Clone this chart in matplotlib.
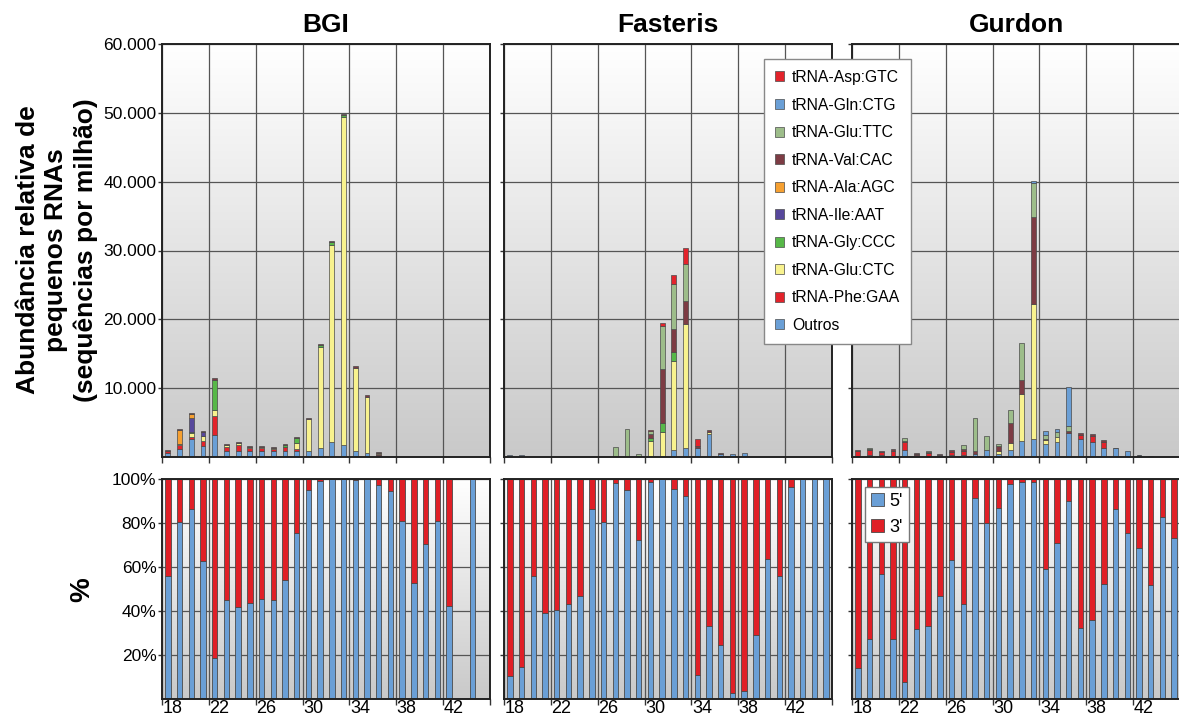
''' plot.py
Abundancia de fragmentos de tRNA por tamanho (BGI, Fasteris, Gurdon).
'''

import numpy as np
import matplotlib
matplotlib.use('Agg')
import matplotlib.pyplot as plt
from matplotlib.patches import Patch
from matplotlib.ticker import FuncFormatter, FixedLocator

plt.rcParams['font.family'] = ['Liberation Sans', 'DejaVu Sans']

sizes = np.arange(18, 46)
centers = ['BGI', 'Fasteris', 'Gurdon']

# legend order (top of legend = top of stack)
series = ['tRNA-Asp:GTC', 'tRNA-Gln:CTG', 'tRNA-Glu:TTC', 'tRNA-Val:CAC',
          'tRNA-Ala:AGC', 'tRNA-Ile:AAT', 'tRNA-Gly:CCC', 'tRNA-Glu:CTC',
          'tRNA-Phe:GAA', 'Outros']
colors = ['#e3232b', '#6a9fd6', '#9dbd8a', '#7d3c44',
          '#f6a031', '#57489c', '#57b848', '#f8f28e',
          '#e3232b', '#6a9fd6']

# values in thousands of sequences per million, sizes 18..45
z = [0] * 28

bgi_outros = [0.55, 1.2, 2.55, 1.6, 3.15, 0.85, 0.8, 0.8, 0.8, 0.8, 0.8, 0.85, 0.9, 1.25,
              2.15, 1.8, 0.8, 0.6, 0.3, 0.05, 0, 0, 0, 0, 0, 0, 0, 0]
bgi_phe = [0.35, 0.5, 0.35, 0.7, 2.85, 0.6, 0.9, 0.45, 0.45, 0.4, 0.6, 0.35, 0, 0,
           0, 0, 0, 0, 0.1, 0, 0, 0, 0, 0, 0, 0, 0, 0]
bgi_glu_ctc = [0, 0.15, 0.6, 0.7, 0.8, 0.25, 0.3, 0.2, 0.2, 0.15, 0.1, 0.8, 4.6, 14.75,
               28.65, 47.55, 12.2, 8.15, 0.2, 0, 0, 0, 0, 0, 0, 0, 0, 0]
bgi_gly = [0, 0, 0.2, 0.1, 4.45, 0, 0, 0, 0, 0, 0.3, 0.8, 0, 0.2,
           0.5, 0.35, 0, 0, 0, 0, 0, 0, 0, 0, 0, 0, 0, 0]
bgi_ile = [0, 0, 2.0, 0.5, 0, 0, 0, 0, 0, 0, 0, 0, 0, 0,
           0, 0, 0, 0, 0, 0, 0, 0, 0, 0, 0, 0, 0, 0]
bgi_ala = [0, 2.0, 0.6, 0.1, 0, 0, 0, 0, 0, 0, 0, 0, 0, 0,
           0, 0, 0, 0, 0, 0, 0, 0, 0, 0, 0, 0, 0, 0]
bgi_val = [0.15, 0.15, 0.1, 0.1, 0.25, 0.15, 0.15, 0.15, 0.15, 0.1, 0.15, 0.1, 0.15, 0.2,
           0.1, 0.1, 0.25, 0.2, 0.1, 0, 0, 0, 0, 0, 0, 0, 0, 0]

fas_outros = [0.25, 0.25, 0.05, 0.05, 0.05, 0, 0, 0.05, 0.05, 0, 0, 0, 0, 0,
              1.05, 1.35, 1.35, 3.3, 0.5, 0.5, 0.6, 0.05, 0, 0, 0, 0, 0, 0]
fas_glu_ctc = [0, 0, 0, 0, 0, 0, 0, 0, 0, 0, 0, 0, 2.3, 3.65,
               12.9, 17.9, 0, 0.35, 0, 0, 0, 0, 0, 0, 0, 0, 0, 0]
fas_gly = [0, 0, 0, 0, 0, 0, 0, 0, 0, 0, 0, 0, 0.4, 1.3,
           1.3, 0, 0, 0, 0, 0, 0, 0, 0, 0, 0, 0, 0, 0]
fas_val = [0, 0, 0, 0, 0, 0, 0, 0, 0, 0, 0, 0.1, 0.7, 7.9,
           3.4, 3.4, 0.2, 0.3, 0.1, 0, 0, 0, 0, 0, 0, 0, 0, 0]
fas_glu_ttc = [0, 0, 0, 0, 0, 0, 0, 0, 0, 1.4, 4.0, 0.4, 0.4, 6.2,
               6.55, 5.4, 0, 0, 0, 0, 0, 0, 0, 0, 0, 0, 0, 0]
fas_asp = [0, 0, 0, 0, 0, 0, 0, 0, 0, 0, 0, 0, 0.1, 0.35,
           1.2, 2.3, 1.1, 0, 0, 0, 0, 0, 0, 0, 0, 0, 0, 0]

gur_outros = [0.2, 0.3, 0.3, 0.2, 0.95, 0.25, 0.15, 0.3, 0.25, 0.3, 0.5, 1.05, 0.5, 1.05,
              2.3, 2.55, 1.95, 2.2, 3.5, 2.55, 2.2, 1.35, 1.25, 0.8, 0.3, 0.2, 0.05, 0.05]
gur_phe = [0.7, 0.7, 0.45, 0.7, 1.3, 0.2, 0.4, 0, 0.5, 0.6, 0, 0, 0, 0,
           0, 0, 0, 0, 0, 0.6, 0.9, 0.9, 0, 0, 0, 0, 0, 0]
gur_glu_ctc = [0, 0, 0, 0, 0, 0, 0, 0, 0, 0, 0, 0, 0.35, 0.95,
               6.85, 19.65, 0.5, 0.7, 0, 0, 0, 0, 0, 0, 0, 0, 0, 0]
gur_val = [0.15, 0.1, 0.15, 0.2, 0.1, 0.15, 0.15, 0.2, 0.3, 0.2, 0.3, 0, 0.7, 2.9,
           2.05, 12.6, 0.1, 0, 0.3, 0.3, 0.2, 0.15, 0.1, 0, 0.05, 0, 0, 0]
gur_glu_ttc = [0, 0.15, 0, 0, 0.45, 0, 0.15, 0, 0, 0.7, 4.8, 1.95, 0.4, 1.95,
               5.3, 4.95, 0.6, 0.7, 0.7, 0, 0, 0, 0, 0, 0, 0, 0, 0]
gur_gln = [0, 0, 0, 0, 0, 0, 0, 0, 0, 0, 0, 0, 0, 0,
           0, 0.4, 0.6, 0.4, 5.6, 0, 0, 0, 0, 0, 0, 0, 0, 0]

# stacks listed bottom -> top (Outros ... Asp)
stacks = {
    'BGI': [bgi_outros, bgi_phe, bgi_glu_ctc, bgi_gly, bgi_ile, bgi_ala,
            bgi_val, z, z, z],
    'Fasteris': [fas_outros, z, fas_glu_ctc, fas_gly, z, z,
                 fas_val, fas_glu_ttc, z, fas_asp],
    'Gurdon': [gur_outros, gur_phe, gur_glu_ctc, z, z, z,
               gur_val, gur_glu_ttc, gur_gln, z],
}

# % of 5' fragments per size (None = no reads)
five_bgi = [55.7, 80.5, 86.2, 62.6, 18.5, 45.2, 41.8, 43.6, 45.5, 44.9, 54.3, 75.5, 95.2, 99.1,
            100, 100, 99.4, 99.8, 97.1, 94.4, 81.1, 52.6, 70.6, 81.1, 42.4, None, 100, None]
five_fas = [10.3, 14.5, 56.1, 39.3, 40.5, 43.0, 47.0, 86.5, 80.5, 98.0, 95.2, 72.5, 98.5, 100,
            95.3, 92.4, 10.9, 33.3, 24.4, 2.7, 3.6, 28.9, 63.7, 55.7, 96.5, 100, 100, 100]
five_gur = [14.2, 27.1, 56.7, 27.1, 7.7, 31.8, 33.3, 46.7, 63.1, 43.4, 91.5, 80.2, 87.0, 97.9,
            98.6, 98.5, 59.0, 71.0, 89.9, 32.1, 35.9, 52.2, 86.2, 75.3, 68.5, 51.9, 82.6, 73.4]
fives = {'BGI': five_bgi, 'Fasteris': five_fas, 'Gurdon': five_gur}

stack_colors = colors[::-1]
edge = '#4a4a4a'
blue5 = '#6a9fd6'
red3 = '#e01f26'


def gradient_bg(ax):
    grad = np.linspace(1.0, 0.0, 256).reshape(-1, 1)
    ax.imshow(grad, extent=(0, 1, 0, 1), transform=ax.transAxes, aspect='auto',
              cmap=matplotlib.colors.LinearSegmentedColormap.from_list(
                  'bg', ['#c9c9c9', '#ffffff']), zorder=0, interpolation='bicubic')


def style_axes(ax):
    ax.set_axisbelow(True)
    ax.grid(True, color='#555555', linewidth=0.9)
    for s in ax.spines.values():
        s.set_linewidth(1.4)
        s.set_color('#222222')
    ax.set_xlim(17.5, 45.5)
    ax.xaxis.set_major_locator(FixedLocator(np.arange(17.5, 46, 4)))
    ax.tick_params(axis='x', which='major', length=4, width=1, labelbottom=False,
                   color='#333333')
    ax.tick_params(axis='y', length=3, width=1, color='#333333', pad=1,
                   labelsize=12.5)


fig = plt.figure(figsize=(11.79, 7.18), dpi=100)
lefts = [162, 504, 852]
width = 328
top_axes = []
bot_axes = []
for i, name in enumerate(centers):
    l = lefts[i] / 1179
    w = width / 1179
    ax = fig.add_axes([l, (718 - 457) / 718, w, 413 / 718])
    bx = fig.add_axes([l, (718 - 699) / 718, w, 220 / 718])
    top_axes.append(ax)
    bot_axes.append(bx)

    # top: stacked abundance
    gradient_bg(ax)
    style_axes(ax)
    bottom = np.zeros(len(sizes))
    for vals, c in zip(stacks[name], stack_colors):
        vals = np.array(vals, dtype=float)
        m = vals > 0
        ax.bar(sizes[m], vals[m], bottom=bottom[m], width=0.42, color=c,
               edgecolor=edge, linewidth=0.5, zorder=2)
        bottom += vals
    ax.set_ylim(0, 60)
    ax.yaxis.set_major_locator(FixedLocator(np.arange(10, 61, 10)))
    ax.yaxis.set_major_formatter(FuncFormatter(
        lambda v, p: '{:d}.000'.format(int(round(v)))))
    if i > 0:
        ax.tick_params(axis='y', labelleft=False)
    ax.set_title(name, fontsize=19, fontweight='bold', pad=9,
                 family=['Liberation Sans Narrow', 'Liberation Sans'])

    # bottom: 5' / 3' proportion
    gradient_bg(bx)
    style_axes(bx)
    five = np.array([np.nan if v is None else v for v in fives[name]])
    m = ~np.isnan(five)
    bx.bar(sizes[m], five[m], width=0.46, color=blue5, edgecolor=edge,
           linewidth=0.6, zorder=2, label="5'")
    bx.bar(sizes[m], 100 - five[m], bottom=five[m], width=0.46, color=red3,
           edgecolor=edge, linewidth=0.6, zorder=2, label="3'")
    bx.set_ylim(0, 100)
    bx.yaxis.set_major_locator(FixedLocator(np.arange(20, 101, 20)))
    bx.yaxis.set_major_formatter(FuncFormatter(lambda v, p: '{:d}%'.format(int(v))))
    if i > 0:
        bx.tick_params(axis='y', labelleft=False)
    lab = np.arange(18, 46, 4)
    bx.xaxis.set_minor_locator(FixedLocator(lab + 0.4))
    bx.set_xticklabels([], minor=False)
    bx.xaxis.set_minor_formatter(FuncFormatter(lambda v, p: '{:d}'.format(int(v))))
    bx.tick_params(axis='x', which='minor', length=0, labelsize=13, pad=1)

fig.text(0.048, (718 - 250) / 718,
         'Abundância relativa de\npequenos RNAs\n(sequências por milhão)',
         rotation=90, ha='center', va='center', fontsize=19, fontweight='bold',
         linespacing=1.25)
fig.text(0.07, (718 - 590) / 718, '%', rotation=90, ha='center', va='center',
         fontsize=20, fontweight='bold')

handles = [Patch(facecolor=c, edgecolor=edge, linewidth=0.5) for c in colors]
fig.legend(handles, series, loc='upper left', bbox_to_anchor=(764 / 1179, (718 - 59) / 718),
           frameon=True, fancybox=False, edgecolor='#888888', fontsize=11.3,
           handlelength=0.6, handleheight=0.6, handletextpad=0.5,
           labelspacing=0.8, borderpad=0.7, borderaxespad=0, framealpha=1)

bot_axes[2].legend(loc='upper left', bbox_to_anchor=(0.04, 0.965), frameon=True,
                   fancybox=False, edgecolor='#777777', fontsize=13,
                   handlelength=0.7, handleheight=0.7, handletextpad=0.3,
                   labelspacing=0.5, borderpad=0.35, borderaxespad=0, framealpha=1)

plt.savefig('out.png', dpi=100)
